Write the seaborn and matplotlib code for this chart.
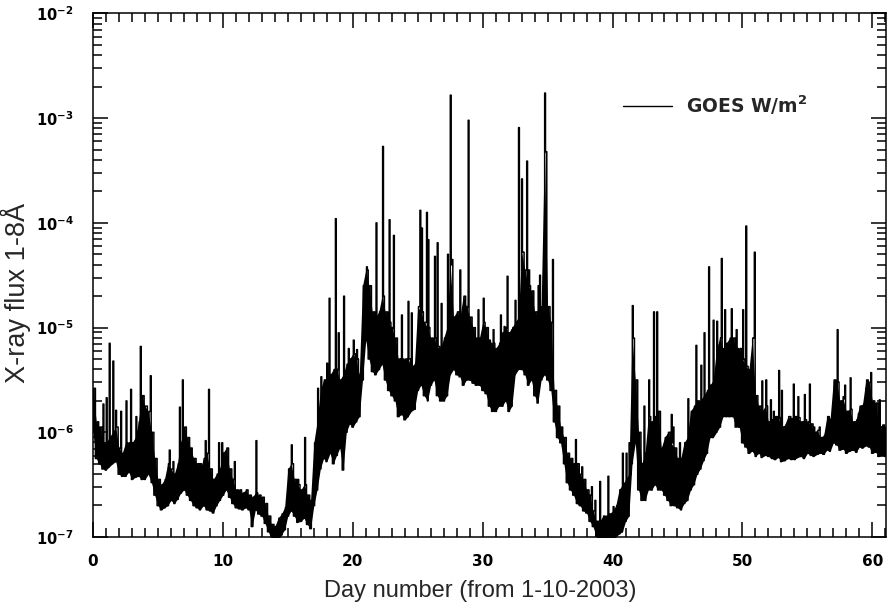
import numpy as np
import pandas as pd
import matplotlib
matplotlib.use("Agg")
import matplotlib.pyplot as plt
import seaborn as sns
from matplotlib.ticker import MultipleLocator, LogLocator, NullFormatter, FuncFormatter

# ---------------- data (log10 of GOES 1-8 A flux, W/m^2) ----------------
# lower / upper envelope of the dense band, one value every 0.25 day from day 0 to day 61
lower_log = [
    -6.00, -6.25, -6.30, -6.35,  -6.36, -6.33, -6.30, -6.28,  -6.40, -6.42, -6.42, -6.38,
    -6.45, -6.43, -6.42, -6.45,  -6.45, -6.40, -6.48, -6.60,  -6.70, -6.74, -6.72, -6.70,
    -6.65, -6.68, -6.64, -6.58,  -6.55, -6.60, -6.65, -6.70,  -6.72, -6.74, -6.70, -6.74,
    -6.75, -6.77, -6.70, -6.65,  -6.60, -6.55, -6.62, -6.68,  -6.72, -6.73, -6.74, -6.72,
    -6.74, -6.90, -6.74, -6.78,  -6.80, -6.87, -6.95, -7.02,  -7.06, -7.03, -6.98, -6.93,
    -6.80, -6.75, -6.80, -6.86,  -6.85, -6.82, -6.88, -6.92,  -6.70, -6.55, -6.35, -6.25,
    -6.28, -6.20, -6.30, -6.22,  -6.15, -6.36, -6.00, -5.92,  -5.95, -5.90, -5.85, -5.50,
    -5.12, -5.30, -5.42, -5.45,  -5.40, -5.35, -5.50, -5.60,  -5.65, -5.70, -5.85, -5.83,
    -5.88, -5.85, -5.80, -5.78,  -5.60, -5.55, -5.65, -5.70,  -5.55, -5.50, -5.65, -5.70,
    -5.70, -5.65, -5.45, -5.40,  -5.45, -5.47, -5.55, -5.50,  -5.50, -5.53, -5.55, -5.55,
    -5.60, -5.63, -5.75, -5.80,  -5.80, -5.75, -5.75, -5.70,  -5.80, -5.75, -5.45, -5.40,
    -5.40, -5.45, -5.55, -5.50,  -5.65, -5.72, -5.50, -5.45,  -5.50, -5.60, -5.90, -6.05,
    -6.10, -6.30, -6.48, -6.55,  -6.60, -6.68, -6.70, -6.75,  -6.77, -6.85, -6.90, -7.00,
    -7.05, -7.05, -7.05, -7.00,  -7.02, -7.00, -6.97, -6.95,  -6.85, -6.80, -6.30, -6.10,
    -6.55, -6.65, -6.65, -6.55,  -6.55, -6.50, -6.55, -6.55,  -6.60, -6.65, -6.70, -6.70,
    -6.72, -6.74, -6.68, -6.65,  -6.55, -6.50, -6.40, -6.35,  -6.27, -6.20, -6.05, -6.05,
    -6.00, -5.95, -5.85, -5.85,  -5.85, -5.85, -5.95, -5.95,  -6.10, -6.14, -6.20, -6.18,
    -6.23, -6.20, -6.24, -6.22,  -6.23, -6.25, -6.26, -6.24,  -6.28, -6.27, -6.25, -6.26,
    -6.26, -6.24, -6.23, -6.25,  -6.20, -6.22, -6.23, -6.21,  -6.20, -6.21, -6.17, -6.18,
    -6.10, -6.12, -6.17, -6.16,  -6.20, -6.18, -6.17, -6.19,  -6.14, -6.15, -6.13, -6.14,
    -6.20, -6.19, -6.23, -6.22,  -6.23,
]
upper_log = [
    -5.58, -5.90, -5.95, -6.10,  -6.10, -6.05, -6.00, -5.95,  -6.15, -6.20, -6.10, -6.10,
    -6.10, -6.05, -5.90, -5.65,  -5.75, -5.80, -6.00, -6.25,  -6.45, -6.50, -6.45, -6.30,
    -6.35, -6.40, -6.30, -6.10,  -5.95, -6.05, -6.15, -6.25,  -6.30, -6.35, -6.25, -6.20,
    -6.35, -6.45, -6.40, -6.35,  -6.20, -6.15, -6.35, -6.45,  -6.55, -6.55, -6.58, -6.55,
    -6.60, -6.62, -6.58, -6.60,  -6.62, -6.68, -6.80, -6.88,  -6.90, -6.82, -6.78, -6.72,
    -6.35, -6.30, -6.45, -6.50,  -6.55, -6.50, -6.60, -6.65,  -6.10, -5.90, -5.60, -5.50,
    -5.50, -5.45, -5.40, -5.40,  -5.50, -5.45, -5.35, -5.30,  -5.25, -5.30, -5.45, -4.60,
    -4.45, -4.60, -4.85, -4.90,  -4.85, -4.70, -4.85, -4.95,  -5.00, -5.10, -5.30, -5.30,
    -5.30, -5.30, -5.37, -5.35,  -4.80, -4.85, -4.95, -5.00,  -5.10, -5.10, -5.18, -5.20,
    -5.10, -5.00, -4.40, -4.90,  -4.85, -4.90, -4.70, -4.80,  -4.90, -5.00, -5.10, -5.10,
    -4.95, -5.00, -5.15, -5.15,  -5.20, -5.15, -5.05, -5.00,  -5.05, -5.00, -4.95, -4.90,
    -4.28, -4.45, -4.60, -4.65,  -4.85, -4.90, -4.80, -3.32,  -4.80, -4.95, -5.60, -5.75,
    -5.95, -6.05, -6.20, -6.25,  -6.30, -6.30, -6.40, -6.45,  -6.55, -6.60, -6.75, -6.85,
    -6.85, -6.80, -6.80, -6.78,  -6.75, -6.70, -6.55, -6.50,  -6.45, -6.40, -5.10, -5.50,
    -6.00, -6.30, -6.20, -5.85,  -5.90, -5.85, -5.80, -6.15,  -6.05, -6.00, -6.10, -6.15,
    -6.25, -6.25, -6.10, -6.05,  -5.80, -5.75, -5.70, -5.70,  -5.65, -5.60, -5.55, -5.50,
    -5.20, -5.10, -5.20, -5.15,  -5.10, -5.10, -5.20, -5.20,  -5.30, -5.37, -5.40, -5.10,
    -5.65, -5.75, -5.80, -5.75,  -5.90, -5.88, -5.85, -5.86,  -5.95, -5.93, -5.85, -5.87,
    -5.85, -5.86, -5.90, -5.88,  -5.90, -5.92, -6.00, -5.98,  -6.05, -6.03, -5.85, -5.87,
    -5.50, -5.52, -5.70, -5.68,  -5.80, -5.78, -5.90, -5.88,  -5.75, -5.73, -5.50, -5.52,
    -5.70, -5.72, -5.95, -5.93,  -5.95,
]
# individual flare spikes: day and log10 of peak flux
spike_days = [
    0.80, 1.05, 1.26, 1.57, 1.75, 2.15, 2.60, 2.93, 3.37, 3.67, 4.05, 4.46, 5.88, 6.20,
    6.70, 6.90, 7.65, 8.30, 8.67, 8.93, 9.35, 9.73, 9.97, 10.90, 12.60, 15.30, 15.80,
    16.35, 17.35, 17.60, 18.00, 18.24, 18.71, 18.90, 19.35, 19.70, 20.09, 20.35, 21.12,
    21.84, 22.35, 22.86, 23.15, 23.76, 24.27, 24.53, 24.99, 25.22, 25.35, 25.74, 25.84,
    26.35, 26.51, 26.87, 27.35, 27.52, 27.66, 28.25, 28.90, 29.67, 30.10, 30.56, 30.87,
    31.38, 31.69, 31.90, 32.28, 32.50, 32.78, 33.00, 33.13, 33.41, 33.60, 34.30, 34.40,
    34.80, 35.39, 36.20, 37.18, 37.65, 38.39, 38.67, 39.03, 39.67, 40.10, 40.26, 40.78,
    41.10, 41.30, 41.55, 42.47, 42.83, 43.20, 43.44, 43.78, 44.55, 44.70, 45.20, 45.86,
    46.47, 46.86, 47.10, 47.43, 47.75, 48.05, 48.38, 48.65, 49.17, 49.55, 50.05, 50.28,
    50.83, 50.96, 51.50, 51.86, 52.20, 52.40, 52.84, 53.02, 53.35, 53.70, 53.97, 54.30,
    54.80, 55.20, 55.50, 55.96, 56.50, 56.79, 57.35, 57.76, 57.88, 58.35, 58.68, 58.99,
    59.30, 59.50, 59.89, 60.58,
]
spike_log = [
    -5.73, -5.67, -5.15, -5.32, -5.79, -5.80, -5.70, -5.59, -5.85, -5.18, -5.75, -5.46, -6.17, -6.28,
    -5.76, -5.50, -6.25, -6.30, -6.08, -5.59, -6.45, -6.10, -6.10, -6.28, -6.08, -6.12, -6.45,
    -6.05, -5.58, -5.47, -5.34, -4.72, -3.96, -5.05, -4.70, -5.20, -5.12, -5.21, -4.42,
    -4.00, -3.27, -3.97, -4.12, -4.88, -4.75, -4.86, -5.21, -3.88, -4.05, -3.90, -4.16,
    -4.32, -4.19, -4.77, -4.30, -2.78, -4.35, -4.45, -3.02, -4.83, -4.72, -5.12, -5.02,
    -4.88, -4.99, -4.51, -5.02, -4.74, -3.09, -3.58, -4.28, -3.41, -4.45, -4.60, -4.50,
    -2.76, -4.35, -6.14, -6.07, -6.33, -6.52, -6.65, -6.47, -6.42, -6.71, -6.74, -6.20,
    -6.20, -6.10, -4.79, -5.75, -5.50, -4.85, -4.85, -6.20, -5.83, -5.95, -6.10, -5.68,
    -5.17, -5.36, -5.05, -4.42, -4.93, -4.94, -4.34, -4.83, -4.82, -5.02, -4.83, -4.03,
    -5.10, -4.28, -5.51, -5.50, -5.69, -5.80, -5.41, -5.60, -6.04, -5.85, -5.54, -5.66,
    -5.64, -5.54, -5.95, -5.95, -6.03, -5.88, -5.02, -5.66, -5.55, -5.48, -5.95, -5.82,
    -5.75, -5.58, -5.43, -5.69,
]
legend_label = r"GOES W/m$^{\mathbf{2}}$"
x_label = "Day number (from 1-10-2003)"
y_label = "X-ray flux 1-8Å"

# ---------------- build the series table ----------------
env_day = np.arange(len(lower_log)) * 0.25
days = np.concatenate([env_day, env_day + 0.125, np.array(spike_days)])
logs = np.concatenate([np.array(lower_log), np.array(upper_log), np.array(spike_log)])
df = pd.DataFrame({"day": days, "flux": 10.0 ** logs}).sort_values("day", kind="mergesort")
band = pd.DataFrame({"day": env_day, "low": 10.0 ** np.array(lower_log),
                     "high": 10.0 ** np.array(upper_log)})

# ---------------- style ----------------
sns.set_theme(style="white", rc={
    "axes.edgecolor": "black", "axes.linewidth": 1.1,
    "xtick.color": "black", "ytick.color": "black",
    "xtick.bottom": True, "ytick.left": True,
})
plt.rcParams["font.family"] = ["DejaVu Sans"]
plt.rcParams["font.weight"] = "bold"
plt.rcParams["mathtext.fontset"] = "custom"
plt.rcParams["mathtext.rm"] = "DejaVu Sans:bold"
plt.rcParams["mathtext.bf"] = "DejaVu Sans:bold"
plt.rcParams["path.simplify"] = False

fig = plt.figure(figsize=(8.88, 6.07), dpi=100)
ax = fig.add_axes([0.1047, 0.1153, 0.8930, 0.8625])

# dense band (the unresolved fast variability), then the stepped light curve on top
ax.fill_between(band["day"], band["low"], band["high"], color="black", linewidth=0)
sns.lineplot(data=df, x="day", y="flux", color="black", linewidth=1.1,
             drawstyle="steps-mid", estimator=None, sort=False, ax=ax, label=legend_label)

ax.set_yscale("log")
ax.set_ylim(1e-7, 1e-2)
ax.set_xlim(0, 61.05)

ax.xaxis.set_major_locator(MultipleLocator(10))
ax.xaxis.set_minor_locator(MultipleLocator(1))
ax.yaxis.set_major_locator(LogLocator(base=10, numticks=12))
ax.yaxis.set_minor_locator(LogLocator(base=10, subs=np.arange(2, 10), numticks=12))
ax.yaxis.set_minor_formatter(NullFormatter())
ax.yaxis.set_major_formatter(FuncFormatter(lambda v, p: r"$\mathbf{10^{%d}}$" % int(round(np.log10(v)))))
ax.xaxis.set_major_formatter(FuncFormatter(lambda v, p: "%d" % int(round(v))))

ax.tick_params(which="both", direction="in", top=True, right=True, bottom=True, left=True,
               width=1.1, color="black")
ax.tick_params(which="major", length=10.5)
ax.tick_params(which="minor", length=6.5)
ax.tick_params(axis="x", which="major", labelsize=11, pad=12)
ax.tick_params(axis="y", which="major", labelsize=10.5, pad=14)

for s in ax.spines.values():
    s.set_visible(True)
    s.set_color("black")
    s.set_linewidth(1.1)

ax.set_xlabel(x_label, fontsize=17, family="Liberation Sans", fontweight="normal")
ax.set_ylabel(y_label, fontsize=19.5, family="Liberation Sans", fontweight="normal")
ax.xaxis.set_label_coords(0.488, -0.082)
ax.yaxis.set_label_coords(-0.078, 0.466)

leg = ax.legend(loc="center left", bbox_to_anchor=(0.6475, 0.825), frameon=False,
                handlelength=2.6, handletextpad=0.75, borderpad=0.4,
                prop={"family": "DejaVu Sans", "weight": "bold", "size": 13.5})
for h in leg.get_lines():
    h.set_linewidth(1.0)

fig.savefig("out.png", dpi=100)
